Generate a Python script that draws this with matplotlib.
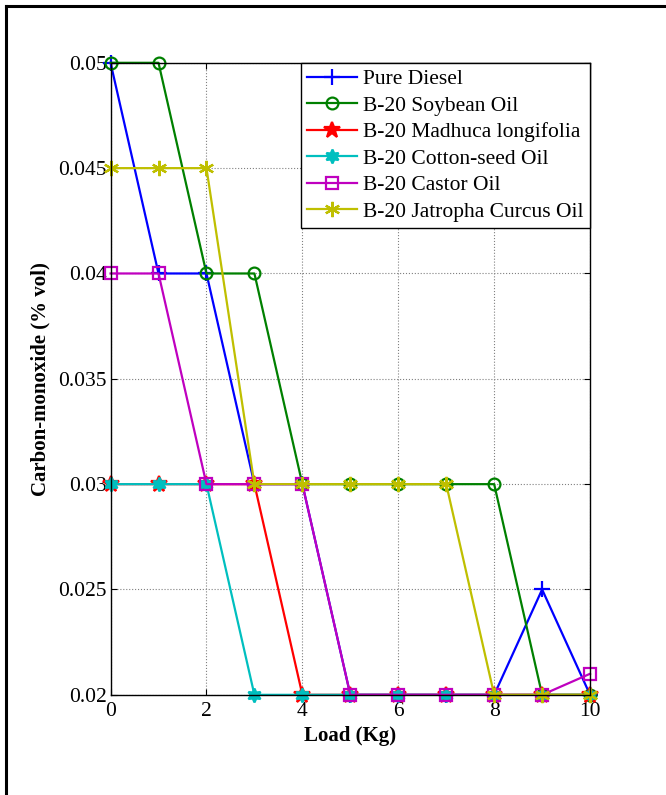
import matplotlib
matplotlib.use('Agg')
import matplotlib.pyplot as plt
from matplotlib.lines import Line2D

plt.rcParams['font.family'] = 'Liberation Serif'

load = [0, 1, 2, 3, 4, 5, 6, 7, 8, 9, 10]
pure_diesel = [0.05, 0.04, 0.04, 0.03, 0.03, 0.02, 0.02, 0.02, 0.02, 0.025, 0.02]
soybean = [0.05, 0.05, 0.04, 0.04, 0.03, 0.03, 0.03, 0.03, 0.03, 0.02, 0.02]
madhuca = [0.03, 0.03, 0.03, 0.03, 0.02, 0.02, 0.02, 0.02, 0.02, 0.02, 0.02]
cotton = [0.03, 0.03, 0.03, 0.02, 0.02, 0.02, 0.02, 0.02, 0.02, 0.02, 0.02]
castor = [0.04, 0.04, 0.03, 0.03, 0.03, 0.02, 0.02, 0.02, 0.02, 0.02, 0.021]
jatropha = [0.045, 0.045, 0.045, 0.03, 0.03, 0.03, 0.03, 0.03, 0.02, 0.02, 0.02]

labels = ['Pure Diesel', 'B-20 Soybean Oil', 'B-20 Madhuca longifolia',
          'B-20 Cotton-seed Oil', 'B-20 Castor Oil', 'B-20 Jatropha Curcus Oil']
x_ticks = [0, 2, 4, 6, 8, 10]
y_ticks = [0.02, 0.025, 0.03, 0.035, 0.04, 0.045, 0.05]
y_ticklabels = ['0.02', '0.025', '0.03', '0.035', '0.04', '0.045', '0.05']

series = [pure_diesel, soybean, madhuca, cotton, castor, jatropha]
colors = [(0, 0, 1), (0, 0.5, 0), (1, 0, 0), (0, 0.75, 0.75), (0.75, 0, 0.75), (0.75, 0.75, 0)]
markers = ['+', 'o', '*', (6, 1, 0), 's', (6, 2, 0)]
msizes = [12, 8.5, 12, 10, 8.5, 11]
fills = ['full', 'none', 'full', 'full', 'none', 'full']

fig = plt.figure(figsize=(6.66, 7.95), dpi=100)
ax = fig.add_axes([0.166, 0.126, 0.720, 0.795])

for vals, c, m, ms, fs, lab in zip(series, colors, markers, msizes, fills, labels):
    ax.plot(load, vals, color=c, marker=m, markersize=ms, fillstyle=fs,
            markeredgewidth=1.6, linewidth=1.6, label=lab, clip_on=False)

ax.set_xlim(0, 10)
ax.set_ylim(0.02, 0.05)
ax.set_xticks(x_ticks)
ax.set_yticks(y_ticks)
ax.set_yticklabels(y_ticklabels)
ax.tick_params(direction='in', top=True, right=True, labelsize=15.5, length=4)
ax.tick_params(axis='y', pad=3)
ax.tick_params(axis='x', pad=5)
ax.grid(True, color='0.5', linestyle=':', linewidth=0.8)
for s in ax.spines.values():
    s.set_linewidth(1.0)

ax.set_xlabel('Load (Kg)', fontsize=15, fontweight='bold', labelpad=4)
ax.set_ylabel('Carbon-monoxide (% vol)', fontsize=15, fontweight='bold', labelpad=5)

leg = ax.legend(loc='upper right', fontsize=15.5, fancybox=False, framealpha=1,
                edgecolor='black', borderaxespad=0, handlelength=2.3,
                borderpad=0.3, labelspacing=0.3, handletextpad=0.3)
leg.get_frame().set_linewidth(1.0)

# figure border (left and top edges visible in the original)
fig.add_artist(Line2D([0.009, 0.009], [0, 0.993], color='black', linewidth=2.2, transform=fig.transFigure))
fig.add_artist(Line2D([0.009, 1.0], [0.993, 0.993], color='black', linewidth=2.2, transform=fig.transFigure))

fig.savefig('out.png', dpi=100)
